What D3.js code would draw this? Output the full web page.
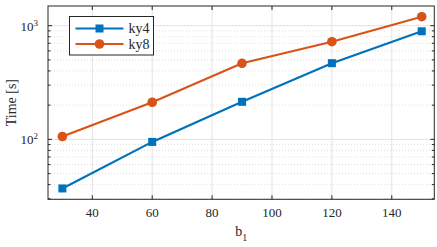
<!DOCTYPE html>
<html>
<head>
<meta charset="utf-8">
<script src="https://cdn.jsdelivr.net/npm/d3@7"></script>
<style>
  body { margin: 0; background: #fff; }
</style>
</head>
<body>
<div id="chart"></div>
<script>
const xValues = [30, 60, 90, 120, 150];
const ky4 = [37, 95, 214, 468, 893];
const ky8 = [106, 212, 467, 723, 1200];
const xTicks = [40, 60, 80, 100, 120, 140];
const yMajor = [100, 1000];

const width = 437, height = 247;
const margin = { top: 6, right: 2.7, bottom: 47.7, left: 48 };
const innerW = width - margin.left - margin.right;
const innerH = height - margin.top - margin.bottom;
const FONT = "Liberation Serif";
const textColor = "#262626";

const svg = d3.select("#chart").append("svg")
  .attr("width", width).attr("height", height)
  .attr("font-family", FONT);

const x = d3.scaleLinear().domain([25.2, 154.2]).range([0, innerW]);
const y = d3.scaleLog().domain([29.7, 1490]).range([innerH, 0]);

const g = svg.append("g").attr("transform", `translate(${margin.left},${margin.top})`);

// minor y values
const yMinor = [];
[10, 100, 1000].forEach(p => {
  for (let k = 2; k <= 9; k++) {
    const v = p * k;
    if (v > y.domain()[0] && v < y.domain()[1]) yMinor.push(v);
  }
});

// grid
g.selectAll(".yminor").data(yMinor).join("line")
  .attr("x1", 0).attr("x2", innerW)
  .attr("y1", d => y(d)).attr("y2", d => y(d))
  .attr("stroke", "#d6d6d6").attr("stroke-width", 0.8)
  .attr("stroke-dasharray", "1,2");
g.selectAll(".ymajor").data(yMajor).join("line")
  .attr("x1", 0).attr("x2", innerW)
  .attr("y1", d => y(d)).attr("y2", d => y(d))
  .attr("stroke", "#e3e3e3").attr("stroke-width", 1);
g.selectAll(".xgrid").data(xTicks).join("line")
  .attr("x1", d => x(d)).attr("x2", d => x(d))
  .attr("y1", 0).attr("y2", innerH)
  .attr("stroke", "#e3e3e3").attr("stroke-width", 1);

// axes box
const axisColor = "#262626";
g.append("rect").attr("width", innerW).attr("height", innerH)
  .attr("fill", "none").attr("stroke", axisColor).attr("stroke-width", 1);

// ticks
xTicks.forEach(t => {
  g.append("line").attr("x1", x(t)).attr("x2", x(t)).attr("y1", innerH).attr("y2", innerH - 4)
    .attr("stroke", axisColor);
  g.append("line").attr("x1", x(t)).attr("x2", x(t)).attr("y1", 0).attr("y2", 4)
    .attr("stroke", axisColor);
  g.append("text").attr("x", x(t)).attr("y", innerH + 18)
    .attr("text-anchor", "middle").attr("fill", textColor)
    .style("font-size", "13px").text(t);
});
yMajor.forEach(t => {
  g.append("line").attr("x1", 0).attr("x2", 4).attr("y1", y(t)).attr("y2", y(t)).attr("stroke", axisColor);
  g.append("line").attr("x1", innerW).attr("x2", innerW - 4).attr("y1", y(t)).attr("y2", y(t)).attr("stroke", axisColor);
  const lbl = g.append("text").attr("x", -10).attr("y", y(t) + 5)
    .attr("text-anchor", "end").attr("fill", textColor)
    .style("font-size", "13px");
  lbl.append("tspan").text("10");
  lbl.append("tspan").attr("dy", -5).style("font-size", "9px").text(Math.round(Math.log10(t)));
});
yMinor.forEach(t => {
  g.append("line").attr("x1", 0).attr("x2", 2.5).attr("y1", y(t)).attr("y2", y(t)).attr("stroke", axisColor);
  g.append("line").attr("x1", innerW).attr("x2", innerW - 2.5).attr("y1", y(t)).attr("y2", y(t)).attr("stroke", axisColor);
});

// axis labels
const xl = svg.append("text").attr("x", margin.left + innerW / 2).attr("y", 236)
  .attr("text-anchor", "middle").attr("fill", textColor)
  .style("font-size", "14px");
xl.append("tspan").text("b");
xl.append("tspan").attr("dy", 5).style("font-size", "10px").text("1");

svg.append("text")
  .attr("transform", `translate(16,${margin.top + innerH / 2}) rotate(-90)`)
  .attr("text-anchor", "middle").attr("fill", textColor)
  .style("font-size", "14px").text("Time [s]");

// series
const series = [
  { name: "ky4", values: ky4, color: "#0072BD", marker: "square" },
  { name: "ky8", values: ky8, color: "#D95319", marker: "circle" },
];
const line = d3.line().x(d => x(d[0])).y(d => y(d[1]));

function drawMarker(sel, m, cx, cy, color) {
  if (m === "square") {
    sel.append("rect").attr("x", cx - 4).attr("y", cy - 4).attr("width", 8).attr("height", 8)
      .attr("fill", color);
  } else {
    sel.append("circle").attr("cx", cx).attr("cy", cy).attr("r", 4.8).attr("fill", color);
  }
}

series.forEach(s => {
  const pts = xValues.map((v, i) => [v, s.values[i]]);
  g.append("path").datum(pts).attr("d", line)
    .attr("fill", "none").attr("stroke", s.color).attr("stroke-width", 2.2);
  pts.forEach(p => drawMarker(g, s.marker, x(p[0]), y(p[1]), s.color));
});

// legend
const leg = svg.append("g").attr("transform", "translate(69.5,16.5)");
leg.append("rect").attr("width", 84).attr("height", 38.5)
  .attr("fill", "#fff").attr("stroke", axisColor).attr("stroke-width", 1);
series.forEach((s, i) => {
  const yy = 12 + i * 15.5;
  leg.append("line").attr("x1", 6).attr("x2", 54).attr("y1", yy).attr("y2", yy)
    .attr("stroke", s.color).attr("stroke-width", 2.2);
  drawMarker(leg, s.marker, 30, yy, s.color);
  leg.append("text").attr("x", 59).attr("y", yy + 4.5).attr("fill", textColor)
    .style("font-size", "14px").text(s.name);
});
</script>
</body>
</html>
